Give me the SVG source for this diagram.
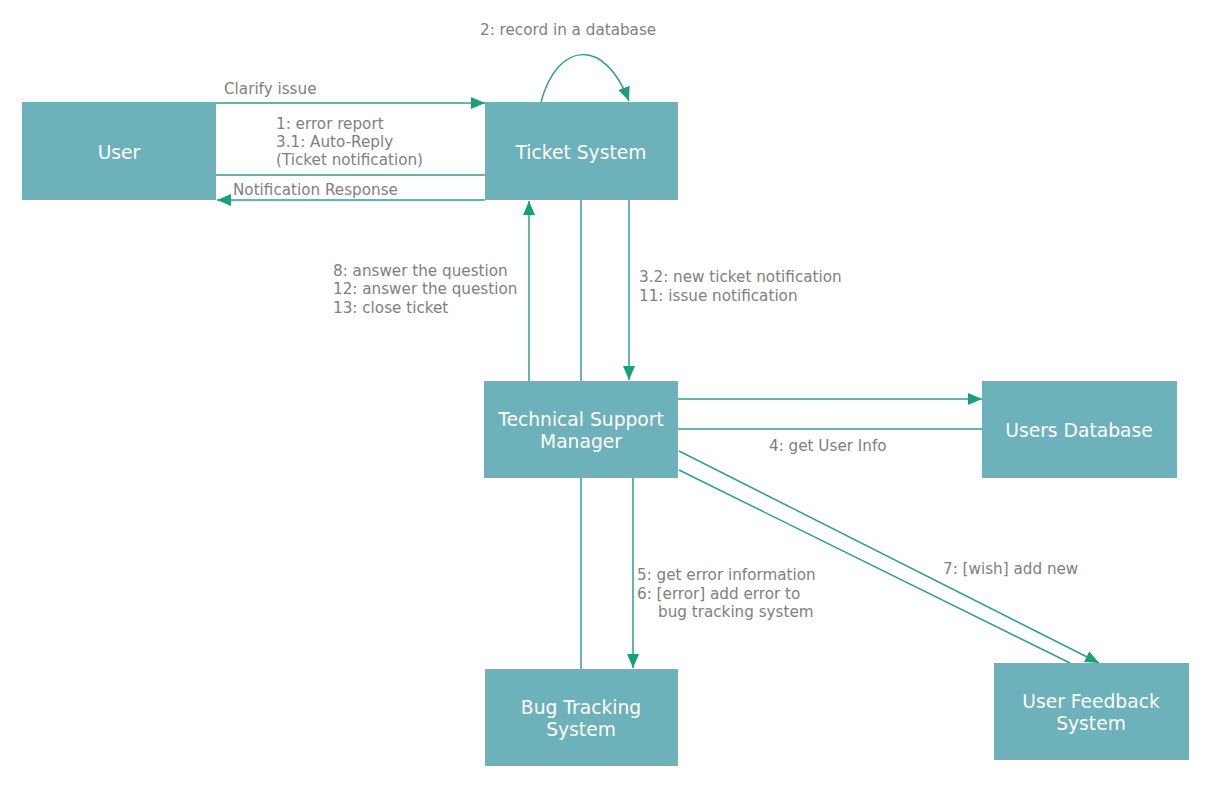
<svg xmlns="http://www.w3.org/2000/svg" width="1209" height="786" viewBox="0 0 1209 786">
<style>
.box{fill:#6db1bb}
.nt{fill:#ffffff;font-family:"DejaVu Sans",Verdana,sans-serif;font-size:18.7px;text-anchor:middle}
.lb{fill:#808080;font-family:"DejaVu Sans",Verdana,sans-serif;font-size:15.2px}
.ln{stroke:#2e9c96;stroke-width:1.5;fill:none}
</style>
<defs>
<marker id="ah" viewBox="0 0 14 12" refX="14" refY="6" markerWidth="14" markerHeight="12" markerUnits="userSpaceOnUse" orient="auto">
<path d="M0,0 L14,6 L0,12 Z" fill="#17a07a"/>
</marker>
</defs>
<rect width="1209" height="786" fill="#ffffff"/>
<g id="connectors">
<line class="ln" x1="216" y1="103" x2="485" y2="103" marker-end="url(#ah)"/>
<line class="ln" x1="216" y1="175" x2="485" y2="175"/>
<line class="ln" x1="485" y1="200" x2="217" y2="200" marker-end="url(#ah)"/>
<path class="ln" d="M541,102 C558,40 605,38 629,101" marker-end="url(#ah)"/>
<line class="ln" x1="529" y1="381" x2="529" y2="201" marker-end="url(#ah)"/>
<line class="ln" x1="581" y1="200" x2="581" y2="381"/>
<line class="ln" x1="629" y1="200" x2="629" y2="380" marker-end="url(#ah)"/>
<line class="ln" x1="678" y1="399" x2="982" y2="399" marker-end="url(#ah)"/>
<line class="ln" x1="678" y1="429" x2="982" y2="429"/>
<line class="ln" x1="581" y1="478" x2="581" y2="669"/>
<line class="ln" x1="633" y1="478" x2="633" y2="668" marker-end="url(#ah)"/>
<line class="ln" x1="679" y1="451" x2="1099" y2="663" marker-end="url(#ah)"/>
<line class="ln" x1="679" y1="470" x2="1070" y2="663"/>
<text class="lb" x="224" y="94">Clarify issue</text>
<text class="lb" x="276" y="129">1: error report</text>
<text class="lb" x="276" y="147">3.1: Auto-Reply</text>
<text class="lb" x="276" y="165">(Ticket notification)</text>
<text class="lb" x="233" y="195">Notification Response</text>
<text class="lb" x="480" y="35">2: record in a database</text>
<text class="lb" x="333" y="276">8: answer the question</text>
<text class="lb" x="333" y="294">12: answer the question</text>
<text class="lb" x="333" y="313">13: close ticket</text>
<text class="lb" x="639" y="282">3.2: new ticket notification</text>
<text class="lb" x="639" y="301">11: issue notification</text>
<text class="lb" x="769" y="451">4: get User Info</text>
<text class="lb" x="637" y="580">5: get error information</text>
<text class="lb" x="637" y="599">6: [error] add error to</text>
<text class="lb" x="658" y="617">bug tracking system</text>
<text class="lb" x="943" y="574">7: [wish] add new</text>
</g>
<g id="user">
<rect class="box" x="22" y="102" width="194" height="98"/>
<text class="nt" x="119" y="159">User</text>
</g>
<g id="ticket-system">
<rect class="box" x="485" y="102" width="193" height="98"/>
<text class="nt" x="581" y="159">Ticket System</text>
</g>
<g id="tech-support-manager">
<rect class="box" x="484" y="381" width="194" height="97"/>
<text class="nt" x="581" y="426">Technical Support</text>
<text class="nt" x="581" y="448">Manager</text>
</g>
<g id="users-database">
<rect class="box" x="982" y="381" width="195" height="97"/>
<text class="nt" x="1079" y="437">Users Database</text>
</g>
<g id="bug-tracking">
<rect class="box" x="485" y="669" width="193" height="97"/>
<text class="nt" x="581" y="714">Bug Tracking</text>
<text class="nt" x="581" y="736">System</text>
</g>
<g id="user-feedback">
<rect class="box" x="994" y="663" width="195" height="97"/>
<text class="nt" x="1091" y="708">User Feedback</text>
<text class="nt" x="1091" y="730">System</text>
</g>
</svg>
